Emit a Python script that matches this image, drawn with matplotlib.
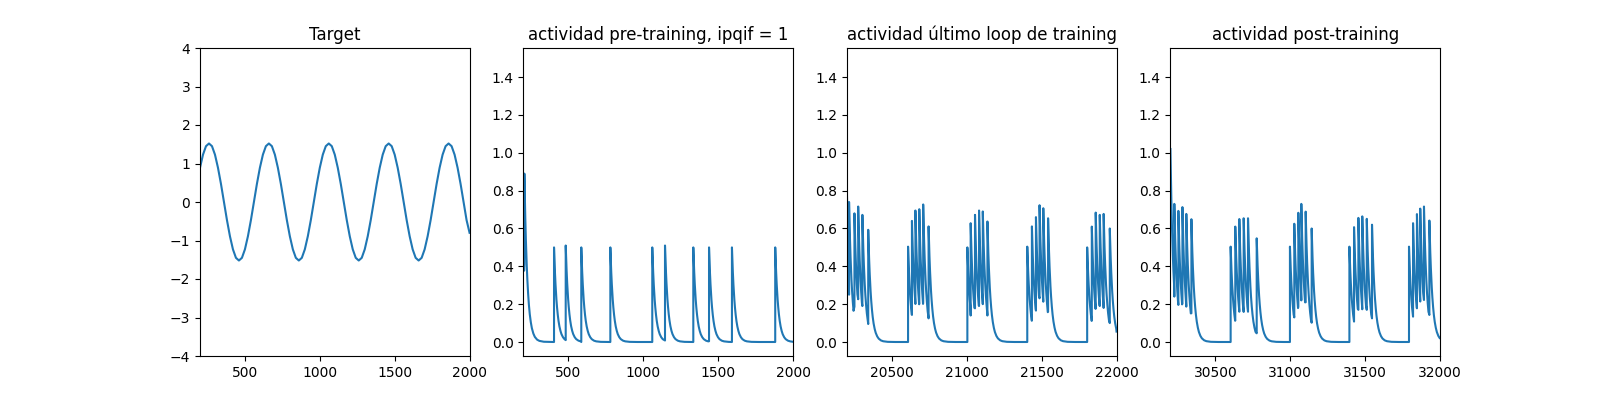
import numpy as np
import matplotlib
matplotlib.use("Agg")
import matplotlib.pyplot as plt

target_t = np.arange(200, 2001, 20)
target_y = [0.89, 1.23, 1.45, 1.52, 1.45, 1.23, 0.89, 0.47, 0.00, -0.47,
            -0.89, -1.23, -1.45, -1.52, -1.45, -1.23, -0.89, -0.47, 0.00, 0.47,
            0.89, 1.23, 1.45, 1.52, 1.45, 1.23, 0.89, 0.47, 0.00, -0.47,
            -0.89, -1.23, -1.45, -1.52, -1.45, -1.23, -0.89, -0.47, 0.00, 0.47,
            0.89, 1.23, 1.45, 1.52, 1.45, 1.23, 0.89, 0.47, 0.00, -0.47,
            -0.89, -1.23, -1.45, -1.52, -1.45, -1.23, -0.89, -0.47, 0.00, 0.47,
            0.89, 1.23, 1.45, 1.52, 1.45, 1.23, 0.89, 0.47, 0.00, -0.47,
            -0.89, -1.23, -1.45, -1.52, -1.45, -1.23, -0.89, -0.47, 0.00, 0.47,
            0.89, 1.23, 1.45, 1.52, 1.45, 1.23, 0.89, 0.47, 0.00, -0.47,
            -0.80]

# shape of the decay after each jump (fraction of the peak left after dt)
decay_dt = [0, 2, 4, 6, 8, 10, 13, 16, 20, 25, 30, 36, 43, 50, 60, 70, 85, 100, 130, 180]
decay_frac = [1.0, 0.905, 0.819, 0.741, 0.670, 0.607, 0.522, 0.449, 0.368, 0.287,
              0.223, 0.165, 0.117, 0.082, 0.050, 0.030, 0.014, 0.0067, 0.0015, 0.0001]

# pre-training: jump times, value just before the jump, value at the peak
pre_start = (200, 0.46)
pre_t = [206, 404, 482, 586, 780, 1060, 1145, 1334, 1439, 1592, 1881]
pre_low = [0.41, 0.0, 0.01, 0.0, 0.0, 0.0, 0.008, 0.0, 0.004, 0.0, 0.0]
pre_peak = [0.89, 0.50, 0.51, 0.50, 0.50, 0.50, 0.51, 0.50, 0.50, 0.50, 0.50]
pre_end = (2000, 0.001)

# last training loop
last_start = (20200, 0.78)
last_t = [20214, 20250, 20275, 20303, 20342,
          20608, 20634, 20657, 20683, 20709, 20745,
          21004, 21026, 21055, 21082, 21107, 21138,
          21404, 21435, 21462, 21486, 21511, 21543,
          21804, 21835, 21861, 21888, 21914, 21955]
last_low = [0.25, 0.187, 0.226, 0.19, 0.095,
            0.0, 0.143, 0.201, 0.205, 0.21, 0.125,
            0.0, 0.14, 0.178, 0.19, 0.2, 0.14,
            0.0, 0.113, 0.166, 0.231, 0.213, 0.16,
            0.0, 0.116, 0.196, 0.19, 0.18, 0.1]
last_peak = [0.74, 0.68, 0.716, 0.672, 0.593,
             0.504, 0.64, 0.695, 0.702, 0.727, 0.611,
             0.50, 0.628, 0.672, 0.695, 0.69, 0.637,
             0.504, 0.611, 0.66, 0.723, 0.707, 0.654,
             0.50, 0.61, 0.684, 0.672, 0.677, 0.60]
last_end = (22000, 0.055)

# post-training
post_start = (30200, 1.02)
post_t = [30226, 30253, 30280, 30306, 30340,
          30602, 30633, 30660, 30689, 30718, 30776,
          30998, 31027, 31054, 31074, 31103, 31143,
          31395, 31426, 31455, 31481, 31511, 31546,
          31793, 31820, 31846, 31868, 31893, 31929]
post_low = [0.24, 0.196, 0.205, 0.187, 0.152,
            0.0, 0.113, 0.16, 0.159, 0.16, 0.046,
            0.0, 0.13, 0.187, 0.22, 0.21, 0.102,
            0.0, 0.108, 0.17, 0.173, 0.17, 0.125,
            0.0, 0.134, 0.178, 0.214, 0.222, 0.143]
post_peak = [0.73, 0.693, 0.713, 0.677, 0.649,
             0.504, 0.61, 0.65, 0.654, 0.654, 0.548,
             0.504, 0.625, 0.683, 0.73, 0.689, 0.60,
             0.504, 0.607, 0.656, 0.664, 0.651, 0.620,
             0.504, 0.628, 0.676, 0.705, 0.716, 0.642]
post_end = (32000, 0.02)


def build_trace(start, times, lows, peaks, end):
    seg_t = [start[0]] + list(times)
    seg_v = [start[1]] + list(peaks)
    seg_low = [None] + list(lows)
    xs, ys = [], []
    for i in range(len(seg_t)):
        t = seg_t[i]
        if seg_low[i] is not None:
            xs.append(t)
            ys.append(seg_low[i])
        xs.append(t)
        ys.append(seg_v[i])
        if i + 1 < len(seg_t):
            t_next = seg_t[i + 1]
        else:
            t_next = end[0]
        for dt, f in zip(decay_dt[1:], decay_frac[1:]):
            if t + dt < t_next:
                xs.append(t + dt)
                ys.append(seg_v[i] * f)
    xs.append(end[0])
    ys.append(end[1])
    return xs, ys


fig, axs = plt.subplots(1, 4, figsize=(16, 4), dpi=100)

axs[0].plot(target_t, target_y)
axs[0].set_title("Target")
axs[0].set_xlim(200, 2000)
axs[0].set_ylim(-4, 4)

panels = [
    ("actividad pre-training, ipqif = 1", pre_start, pre_t, pre_low, pre_peak, pre_end),
    ("actividad último loop de training", last_start, last_t, last_low, last_peak, last_end),
    ("actividad post-training", post_start, post_t, post_low, post_peak, post_end),
]

for ax, (title, start, t, low, peak, end) in zip(axs[1:], panels):
    xs, ys = build_trace(start, t, low, peak, end)
    ax.plot(xs, ys)
    ax.set_title(title)
    ax.set_xlim(start[0], end[0])
    ax.set_ylim(-0.074, 1.554)
    ax.set_yticks(np.arange(0, 1.41, 0.2))

axs[1].set_xticks([500, 1000, 1500, 2000])
axs[2].set_xticks([20500, 21000, 21500, 22000])
axs[3].set_xticks([30500, 31000, 31500, 32000])

plt.savefig("out.png")
